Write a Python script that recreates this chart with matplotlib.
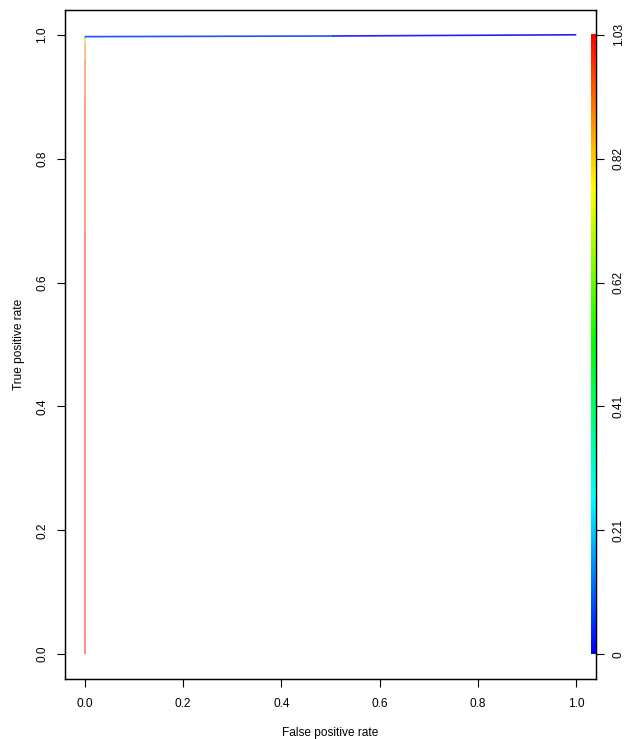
import numpy as np
import matplotlib
matplotlib.use('Agg')
from matplotlib import pyplot as plt
from matplotlib.collections import LineCollection
from matplotlib.colors import LinearSegmentedColormap

plt.rcParams['font.family'] = ['Liberation Sans', 'DejaVu Sans']

# ROC curve points and cutoffs
fpr = [0.0, 0.0, 0.0, 0.0, 0.0, 0.0, 0.0, 0.5, 1.0]
tpr = [0.0, 0.68, 0.90, 0.96, 0.985, 0.993, 0.997, 0.998, 1.0]
cutoff = [1.03, 1.0, 0.97, 0.93, 0.88, 0.82, 0.10, 0.03, 0.0]
cut_max = 1.03
cbar_labels = ['0', '0.21', '0.41', '0.62', '0.82', '1.03']

cmap = LinearSegmentedColormap.from_list(
    'rainbow_r', ['#0000FF', '#00FFFF', '#00FF00', '#FFFF00', '#FF0000'])

fig = plt.figure(figsize=(6.27, 7.39), dpi=100)
ax = fig.add_axes([65 / 627, 1 - 679 / 739, 531 / 627, 669 / 739])

pts = np.column_stack([fpr, tpr])
segs = np.stack([pts[:-1], pts[1:]], axis=1)
vals = (np.array(cutoff[:-1]) + np.array(cutoff[1:])) / 2 / cut_max
cols = cmap(vals)
cols[:, 3] = 0.55
cols[-2:, 3] = 0.9
lc = LineCollection(segs, colors=cols, linewidths=1.2)
ax.add_collection(lc)

# colour bar along the right edge
grad = np.linspace(1, 0, 256).reshape(-1, 1)
ax.imshow(grad, cmap=cmap, aspect='auto', extent=[1.0305, 1.0407, 0, 1], zorder=3)

ax.set_xlim(-0.04, 1.04)
ax.set_ylim(-0.04, 1.04)
ticks = np.arange(0, 1.01, 0.2)
ax.set_xticks(ticks)
ax.set_yticks(ticks)
ax.set_xticklabels(['%.1f' % t for t in ticks], fontsize=8.6)
ax.set_yticklabels(['%.1f' % t for t in ticks], fontsize=8.6, rotation=90, va='center')
ax.tick_params(length=6, width=0.8, pad=8)
ax.tick_params(axis='y', pad=6)
ax.set_xlabel('False positive rate', fontsize=8.6, labelpad=12)
ax.set_ylabel('True positive rate', fontsize=8.6, labelpad=8)

ax2 = ax.twinx()
ax2.set_ylim(-0.04, 1.04)
ax2.set_yticks(ticks)
ax2.set_yticklabels(cbar_labels, fontsize=8.6, rotation=90, va='center')
ax2.tick_params(length=6, width=0.8, pad=6)

for a in (ax, ax2):
    for s in a.spines.values():
        s.set_linewidth(0.9)

fig.savefig('out.png', dpi=100)
